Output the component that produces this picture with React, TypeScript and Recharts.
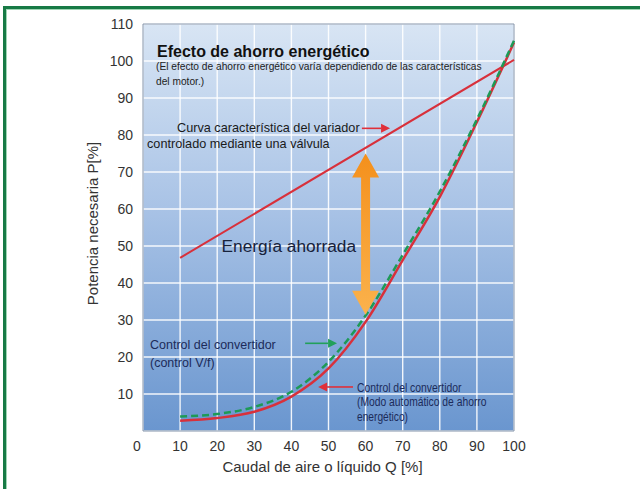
import {
  LineChart,
  Line,
  XAxis,
  YAxis,
  CartesianGrid,
  ReferenceLine,
  ReferenceArea,
} from "recharts";

// caudal Q [%] and potencia P [%]
const flowQ = [10, 20, 30, 40, 50, 60, 70, 80, 90, 100];
const autoSavingP = [2.8, 3.5, 5.2, 9.3, 16.9, 29.5, 46.2, 63.3, 83.5, 105];
const vfControlP = [3.9, 4.6, 6.5, 10.6, 18.7, 31.2, 47.6, 64.7, 84.2, 105.5];
const valveQ = [10, 100];
const valveP = [46.8, 100.3];

const xTicks = [0, 10, 20, 30, 40, 50, 60, 70, 80, 90, 100];
const yTicks = [10, 20, 30, 40, 50, 60, 70, 80, 90, 100, 110];

// annotation arrows, in data units
const savedArrow = { q: 60, top: 75, bottom: 31.4 };
const valveArrow = { q1: 59, q2: 66.6, p: 81.8 };
const vfArrow = { q1: 43.7, q2: 52.3, p: 23.7 };
const autoArrow = { q1: 56.6, q2: 47.2, p: 11.9 };

const curveData = flowQ.map((q, i) => ({ q, auto: autoSavingP[i], vf: vfControlP[i] }));
const valveData = valveQ.map((q, i) => ({ q, valve: valveP[i] }));

const FONT = '"Liberation Sans", Arial, Helvetica, sans-serif';
const RED = "#d8303b";
const GREEN = "#1d9a56";

const arrowShape = (color: string) => (p: any) => {
  const { x1, y1, x2, y2 } = p;
  const ang = Math.atan2(y2 - y1, x2 - x1);
  const hl = 9;
  const hw = 4.5;
  const bx = x2 - hl * Math.cos(ang);
  const by = y2 - hl * Math.sin(ang);
  const px = -Math.sin(ang) * hw;
  const py = Math.cos(ang) * hw;
  return (
    <g>
      <line x1={x1} y1={y1} x2={bx} y2={by} stroke={color} strokeWidth={1.6} />
      <polygon points={`${x2},${y2} ${bx + px},${by + py} ${bx - px},${by - py}`} fill={color} />
    </g>
  );
};

const doubleArrow = (p: any) => {
  const { x1, y1, y2 } = p;
  const x = x1;
  const hl = 24;
  const hw = 13.5;
  const sw = 4.5;
  const pts = [
    [x, y1],
    [x + hw, y1 + hl],
    [x + sw, y1 + hl],
    [x + sw, y2 - hl],
    [x + hw, y2 - hl],
    [x, y2],
    [x - hw, y2 - hl],
    [x - sw, y2 - hl],
    [x - sw, y1 + hl],
    [x - hw, y1 + hl],
  ]
    .map((v) => v.join(","))
    .join(" ");
  return <polygon points={pts} fill="url(#orangeGrad)" />;
};

const XTick = (props: any) => {
  const { x, y, payload } = props;
  return (
    <text
      x={x + (payload.value === 0 ? -6 : 0)}
      y={y}
      dy="0.71em"
      textAnchor="middle"
      fill="#333"
      fontSize={14}
      fontFamily={FONT}
    >
      {payload.value}
    </text>
  );
};

export default function App() {
  return (
    <div style={{ position: "absolute", left: 0, top: 0, width: 640, height: 489, background: "#fff" }}>
      <div style={{ position: "absolute", left: 3, top: 6, width: 637, height: 3, background: "#177a45" }} />
      <div style={{ position: "absolute", left: 3, top: 9, width: 637, height: 1, background: "#9fd6b4" }} />
      <div style={{ position: "absolute", left: 3, top: 6, width: 3, height: 483, background: "#177a45" }} />
      <div style={{ position: "absolute", left: 6, top: 9, width: 1, height: 480, background: "#9fd6b4" }} />

      <LineChart
        width={640}
        height={489}
        margin={{ top: 24, right: 126, bottom: 28, left: 0 }}
        style={{ fontFamily: FONT }}
      >
        <defs>
          <linearGradient id="plotBg" x1="0" y1="0" x2="0" y2="1">
            <stop offset="0%" stopColor="#d8e5f4" />
            <stop offset="45%" stopColor="#a9c3e6" />
            <stop offset="100%" stopColor="#6a96cf" />
          </linearGradient>
          <linearGradient id="orangeGrad" x1="0" y1="0" x2="0" y2="1">
            <stop offset="0%" stopColor="#f4901c" />
            <stop offset="100%" stopColor="#fbb24c" />
          </linearGradient>
        </defs>
        <CartesianGrid fill="url(#plotBg)" stroke="#ffffff" strokeOpacity={0.9} strokeWidth={1.4} />
        <XAxis
          type="number"
          dataKey="q"
          domain={[0, 100]}
          ticks={xTicks}
          axisLine={false}
          tickLine={false}
          tickMargin={4}
          height={30}
          tick={<XTick />}
          label={{
            content: (p: any) => {
              const vb = p.viewBox;
              return (
                <text
                  x={vb.x + vb.width / 2 - 6}
                  y={vb.y + 41}
                  textAnchor="middle"
                  fill="#333"
                  fontSize={15}
                  fontFamily={FONT}
                >
                  Caudal de aire o líquido Q [%]
                </text>
              );
            },
          }}
        />
        <YAxis
          type="number"
          domain={[0, 110]}
          ticks={yTicks}
          axisLine={false}
          tickLine={false}
          tickMargin={4}
          width={143}
          tick={{ fill: "#333", fontSize: 14, fontFamily: FONT }}
          label={{
            content: (p: any) => {
              const vb = p.viewBox;
              const cx = vb.x + 98;
              const cy = vb.y + vb.height / 2 - 4;
              return (
                <text
                  x={cx}
                  y={cy}
                  transform={`rotate(-90, ${cx}, ${cy})`}
                  textAnchor="middle"
                  fill="#333"
                  fontSize={15}
                  fontFamily={FONT}
                >
                  Potencia necesaria P[%]
                </text>
              );
            },
          }}
        />
        <ReferenceArea x1={0} x2={100} y1={0} y2={110} fill="none" fillOpacity={0} stroke="#8494aa" strokeWidth={1} />

        <Line
          data={valveData}
          dataKey="valve"
          type="linear"
          stroke={RED}
          strokeWidth={2}
          dot={false}
          isAnimationActive={false}
        />
        <Line
          data={curveData}
          dataKey="auto"
          type="monotone"
          stroke={RED}
          strokeWidth={2.5}
          dot={false}
          isAnimationActive={false}
        />
        <Line
          data={curveData}
          dataKey="vf"
          type="monotone"
          stroke={GREEN}
          strokeWidth={2.5}
          strokeDasharray="7 4"
          dot={false}
          isAnimationActive={false}
        />

        <ReferenceLine
          segment={[
            { x: savedArrow.q, y: savedArrow.top },
            { x: savedArrow.q, y: savedArrow.bottom },
          ]}
          shape={doubleArrow}
        />
        <ReferenceLine
          segment={[
            { x: valveArrow.q1, y: valveArrow.p },
            { x: valveArrow.q2, y: valveArrow.p },
          ]}
          shape={arrowShape("#e0303a")}
        />
        <ReferenceLine
          segment={[
            { x: vfArrow.q1, y: vfArrow.p },
            { x: vfArrow.q2, y: vfArrow.p },
          ]}
          shape={arrowShape("#22a05a")}
        />
        <ReferenceLine
          segment={[
            { x: autoArrow.q1, y: autoArrow.p },
            { x: autoArrow.q2, y: autoArrow.p },
          ]}
          shape={arrowShape("#e0303a")}
        />
      </LineChart>

      <svg
        width={640}
        height={489}
        style={{ position: "absolute", left: 0, top: 0, pointerEvents: "none" }}
        fontFamily={FONT}
      >
        <text x={157} y={57} fontSize={16} fontWeight="bold" fill="#111">
          Efecto de ahorro energético
        </text>
        <text x={156} y={69.5} fontSize={10.2} fill="#222">
          (El efecto de ahorro energético varía dependiendo de las características
        </text>
        <text x={156} y={85} fontSize={10.2} fill="#222">
          del motor.)
        </text>
        <text x={177} y={132} fontSize={12.7} fill="#1a1a1a">
          Curva característica del variador
        </text>
        <text x={147} y={147.5} fontSize={12.7} fill="#1a1a1a">
          controlado mediante una válvula
        </text>
        <text x={221.5} y={252} fontSize={17.3} fill="#17223b">
          Energía ahorrada
        </text>
        <text x={150} y={348.8} fontSize={12.5} fill="#1c2b5a">
          Control del convertidor
        </text>
        <text x={150} y={366.5} fontSize={12.5} fill="#1c2b5a">
          (control V/f)
        </text>
        <text x={357} y={391.5} fontSize={12} fill="#1c2b5a" textLength={104.5} lengthAdjust="spacingAndGlyphs">
          Control del convertidor
        </text>
        <text x={357} y={406} fontSize={12} fill="#1c2b5a" textLength={129.5} lengthAdjust="spacingAndGlyphs">
          (Modo automático de ahorro
        </text>
        <text x={357} y={420.5} fontSize={12} fill="#1c2b5a" textLength={51} lengthAdjust="spacingAndGlyphs">
          energético)
        </text>
      </svg>
    </div>
  );
}
